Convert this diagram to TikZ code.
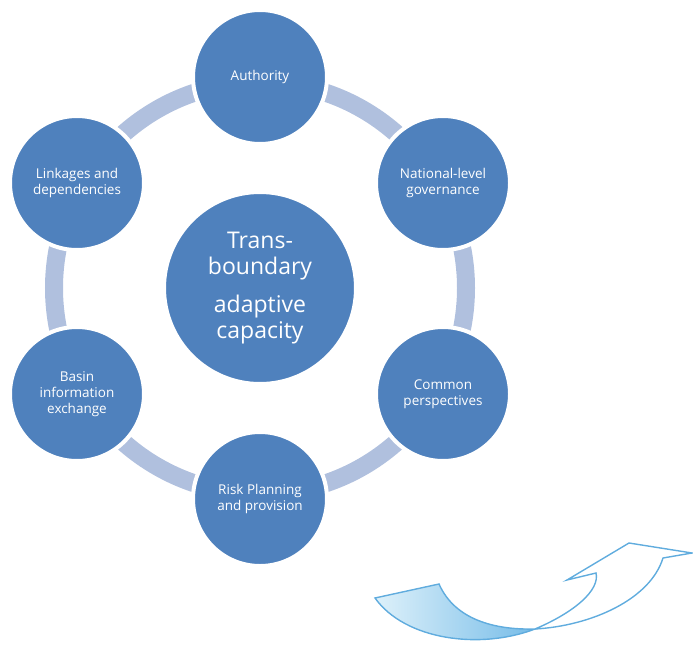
\documentclass[tikz,border=0pt]{standalone}
\usepackage{fontspec}
\setmainfont{Open Sans}
\definecolor{nodeblue}{RGB}{79,129,189}
\definecolor{ringblue}{RGB}{176,192,222}
\definecolor{arrowline}{RGB}{96,172,222}
\definecolor{arrowlight}{RGB}{222,241,250}
\definecolor{arrowdark}{RGB}{118,188,232}
\tikzset{
	hub/.style={circle,fill=nodeblue,draw=white,line width=4pt,minimum size=192pt,inner sep=0pt,text=white,align=center,font=\fontsize{23}{26.5}\selectfont},
	item/.style={circle,fill=nodeblue,draw=white,line width=4pt,minimum size=134pt,inner sep=0pt,text=white,align=center,font=\fontsize{13.5}{16}\selectfont},
	ring/.style={draw=ringblue,line width=18pt},
	twist/.style={draw=arrowline,line width=1.4pt,line join=miter}
}
\begin{document}
\begin{tikzpicture}[x=1pt,y=-1pt]
		\useasboundingbox (0,0) rectangle (693,645);
		\coordinate (m)at(260,288);
		\draw[ring] (m) circle[radius=206pt];
		
		\node[hub] (0)at(260,288) {Trans-\\boundary\\[11pt]adaptive\\capacity};
		\node[item] (1)at(260,77) {Authority};
		\node[item] (2)at(443,183) {National-level\\governance};
		\node[item] (3)at(443,394) {Common\\perspectives};
		\node[item] (4)at(260,499) {Risk Planning\\and provision};
		\node[item] (5)at(77,394) {Basin\\information\\exchange};
		\node[item] (6)at(77,183) {Linkages and\\dependencies};
		
		\coordinate (x)at(535,629);
		\fill[left color=arrowlight,right color=arrowdark] (375,598) -- (439,584) .. controls (455,620) and (495,630) .. (x) .. controls (480,650) and (405,640) .. cycle;
		\draw[twist] (375,598) -- (439,584) .. controls (455,620) and (495,630) .. (x) .. controls (480,650) and (405,640) .. cycle;
		\draw[twist] (x) .. controls (575,612) and (600,590) .. (596,573) -- (567,580) -- (629,543) -- (692,553) -- (663,558) .. controls (650,600) and (590,626) .. (x);
	\end{tikzpicture}
\end{document}
